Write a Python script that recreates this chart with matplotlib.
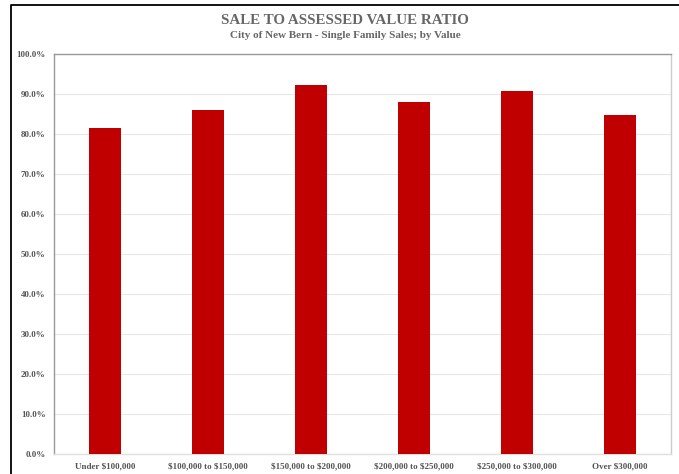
import matplotlib.pyplot as plt
from matplotlib.lines import Line2D
from matplotlib.ticker import PercentFormatter

categories = ["Under $100,000", "$100,000 to $150,000", "$150,000 to $200,000",
              "$200,000 to $250,000", "$250,000 to $300,000", "Over $300,000"]
ratios = [81.6, 86.0, 92.3, 88.1, 90.8, 84.8]

plt.rcParams["font.family"] = ["Liberation Serif", "DejaVu Serif"]
plt.rcParams["text.parse_math"] = False

W, H = 679, 474
fig = plt.figure(figsize=(W / 100, H / 100), dpi=100)
ax = fig.add_axes([54 / W, 20 / H, 617 / W, 400 / H])

x = range(len(categories))
ax.bar(x, ratios, width=0.31, color="#c00000", zorder=3)

ax.set_xlim(-0.5, len(categories) - 0.5)
ax.set_ylim(0, 100)
ax.set_yticks(range(0, 101, 10))
ax.yaxis.set_major_formatter(PercentFormatter(decimals=1))
ax.set_xticks(list(x))
ax.set_xticklabels(categories)
ax.tick_params(axis="both", length=0, labelsize=6.5, labelcolor="#555555")
ax.tick_params(axis="x", pad=6)
ax.tick_params(axis="y", pad=6)
for lab in ax.get_xticklabels() + ax.get_yticklabels():
    lab.set_fontweight("bold")

ax.grid(axis="y", color="#e8e8e8", linewidth=0.8, zorder=0)
ax.spines["top"].set_color("#999999")
ax.spines["left"].set_color("#999999")
ax.spines["right"].set_color("#cccccc")
ax.spines["bottom"].set_color("#e0e0e0")
for s in ax.spines.values():
    s.set_linewidth(1.0)

cx = (11 + W) / 2 / W
fig.text(cx, 1 - 21 / H, "SALE TO ASSESSED VALUE RATIO", ha="center", va="center",
         fontsize=10.8, fontweight="bold", color="#666666")
fig.text(cx, 1 - 36 / H, "City of New Bern - Single Family Sales; by Value", ha="center",
         va="center", fontsize=8, fontweight="bold", color="#666666")

# outer frame of the cropped chart
fig.add_artist(Line2D([11 / W, 11 / W, 1], [0, 1 - 5 / H, 1 - 5 / H],
                      color="black", linewidth=1.3, transform=fig.transFigure))

fig.savefig("out.png", dpi=100)
